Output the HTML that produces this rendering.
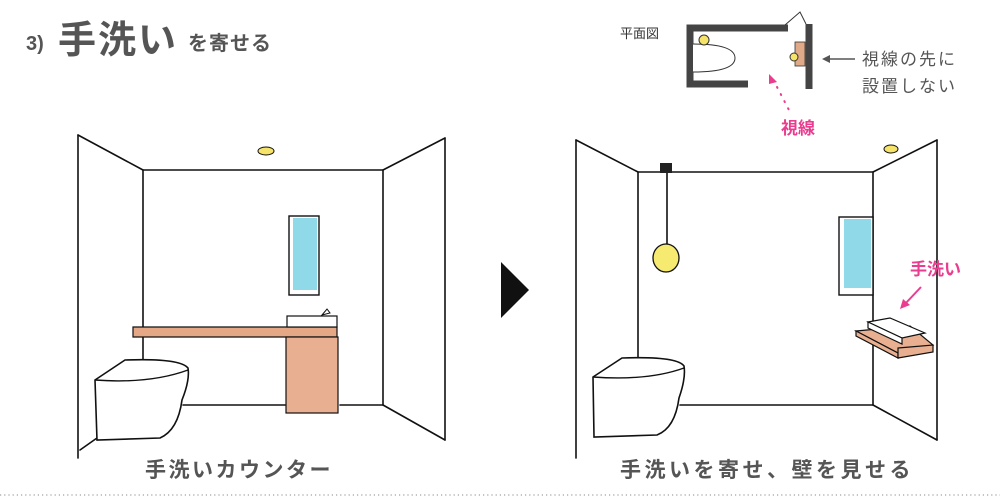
<!DOCTYPE html>
<html><head><meta charset="utf-8"><style>
html,body{margin:0;padding:0;background:#fff;}
svg{display:block;font-family:"Liberation Sans","Noto Sans CJK JP",sans-serif;}
</style></head><body>
<svg width="1000" height="500" viewBox="0 0 1000 500" xmlns="http://www.w3.org/2000/svg">
<!-- title -->
<text x="26" y="50" font-size="20" font-weight="bold" fill="#555">3)</text>
<text x="58" y="53" font-size="38" font-weight="bold" fill="#555" letter-spacing="2">手洗い</text>
<text x="188" y="50" font-size="20" font-weight="bold" fill="#555" letter-spacing="1">を寄せる</text>

<g stroke="#111" stroke-width="1.6" fill="none" stroke-linecap="round">
<line x1="78" y1="135" x2="143" y2="170"/><line x1="383" y1="170" x2="445" y2="138"/>
<line x1="143" y1="170" x2="383" y2="170"/>
<line x1="78" y1="135" x2="78" y2="458"/><line x1="445" y1="138" x2="445" y2="440"/>
<line x1="143" y1="170" x2="143" y2="360"/><line x1="383" y1="170" x2="383" y2="405"/>
<line x1="183" y1="405" x2="285" y2="405"/><line x1="340" y1="405" x2="383" y2="405"/>
<line x1="383" y1="405" x2="445" y2="440"/><line x1="97" y1="438" x2="80" y2="450"/>
</g>
<rect x="289" y="216" width="30" height="79" fill="#fff" stroke="#111" stroke-width="1.4"/>
<rect x="293" y="218" width="24" height="72" fill="#8fd9e8"/>
<polygon points="133,327 287,327 337,327 337,337 133,337" fill="#e4a887" stroke="#111" stroke-width="1.2"/>
<rect x="286" y="337" width="52" height="76" fill="#e8b090" stroke="#111" stroke-width="1.2"/>
<rect x="287" y="316" width="50" height="11" fill="#fff" stroke="#111" stroke-width="1.2"/>
<path d="M322 315 l5 -6 l3 4 z" fill="#fff" stroke="#111"/>
<path d="M95 380 L125 360 Q180 358 188 368 Q190 380 182 400 Q178 430 160 438 L97 440 Z" fill="#fff" stroke="#111" stroke-width="1.6"/>
<path d="M95 380 Q150 384 188 370" fill="none" stroke="#111" stroke-width="1.4"/>
<ellipse cx="266" cy="151" rx="8" ry="4" fill="#f5e36a" stroke="#111"/>

<polygon points="501,262 529,290 501,318" fill="#111"/>

<g stroke="#111" stroke-width="1.6" fill="none" stroke-linecap="round">
<line x1="576" y1="140" x2="638" y2="172"/><line x1="873" y1="172" x2="937" y2="140"/>
<line x1="638" y1="172" x2="873" y2="172"/>
<line x1="576" y1="140" x2="576" y2="458"/><line x1="937" y1="140" x2="937" y2="440"/>
<line x1="638" y1="172" x2="638" y2="358"/><line x1="873" y1="172" x2="873" y2="405"/>
<line x1="680" y1="405" x2="873" y2="405"/><line x1="873" y1="405" x2="937" y2="440"/>
<line x1="667" y1="173" x2="667" y2="246"/>
</g>
<rect x="660" y="163" width="12" height="10" fill="#222"/>
<ellipse cx="666" cy="258" rx="13" ry="14" fill="#f7ea70" stroke="#111" stroke-width="1.3"/>
<rect x="839" y="217" width="34" height="78" fill="#fff" stroke="#111" stroke-width="1.4"/>
<rect x="844" y="219" width="27" height="69" fill="#8fd9e8"/>
<polygon points="856,331 910,326 933,345 898,353" fill="#e8b090" stroke="#111" stroke-width="1.2"/>
<polygon points="856,331 898,353 898,358 856,336" fill="#e8b090" stroke="#111" stroke-width="1.2"/>
<polygon points="898,348 933,345 933,352 898,358" fill="#e8b090" stroke="#111" stroke-width="1.2"/>
<polygon points="868,322 890,318 925,333 902,338" fill="#fff" stroke="#111" stroke-width="1.2"/>
<polygon points="868,322 902,338 902,344 868,328" fill="#fff" stroke="#111" stroke-width="1.2"/>
<path d="M593 377 L622 358 Q677 356 684 366 Q686 378 679 398 Q675 428 657 435 L594 437 Z" fill="#fff" stroke="#111" stroke-width="1.6"/>
<path d="M593 377 Q648 381 684 368" fill="none" stroke="#111" stroke-width="1.4"/>
<ellipse cx="891" cy="149" rx="7" ry="4" fill="#f5e36a" stroke="#111"/>
<text x="910" y="275" font-size="17" font-weight="bold" fill="#ea3d8f">手洗い</text>
<line x1="921" y1="287" x2="905" y2="304" stroke="#ea3d8f" stroke-width="2"/>
<polygon points="900,309 903,299 910,305" fill="#ea3d8f"/>

<text x="620" y="38" font-size="13" fill="#333">平面図</text>
<path d="M788 28 L690 28 L690 84 L748 84" fill="none" stroke="#444" stroke-width="7"/>
<line x1="809" y1="24" x2="809" y2="89" stroke="#444" stroke-width="7"/>
<path d="M785 25 L800 12 L806 24" fill="none" stroke="#333" stroke-width="1"/>
<path d="M693 44 Q735 44 735 58 Q735 72 693 72" fill="#fff" stroke="#333" stroke-width="1"/>
<circle cx="704" cy="40" r="5" fill="#f5e36a" stroke="#333"/>
<rect x="795" y="42" width="10" height="24" fill="#e0a987" stroke="#333" stroke-width="0.8"/>
<circle cx="794" cy="57" r="4" fill="#f5e36a" stroke="#333"/>
<line x1="826" y1="59" x2="855" y2="59" stroke="#555" stroke-width="1.5"/>
<polygon points="822,59 830,55 830,63" fill="#555"/>
<text x="862" y="65" font-size="17" fill="#555" letter-spacing="2">視線の先に</text>
<text x="862" y="92" font-size="17" fill="#555" letter-spacing="2">設置しない</text>
<polygon points="769,74 777,82 769,84" fill="#ea3d8f"/>
<line x1="777" y1="87" x2="790" y2="112" stroke="#ea3d8f" stroke-width="2" stroke-dasharray="1,7" stroke-linecap="round"/>
<text x="781" y="134" font-size="17" font-weight="bold" fill="#ea3d8f">視線</text>

<text x="145" y="477" font-size="21" font-weight="bold" fill="#555" letter-spacing="2.5">手洗いカウンター</text>
<text x="620" y="477" font-size="21" font-weight="bold" fill="#555" letter-spacing="3.5">手洗いを寄せ、壁を見せる</text>
<line x1="0" y1="495" x2="1000" y2="495" stroke="#888" stroke-width="1" stroke-dasharray="1.2,3"/>
</svg>
</body></html>
